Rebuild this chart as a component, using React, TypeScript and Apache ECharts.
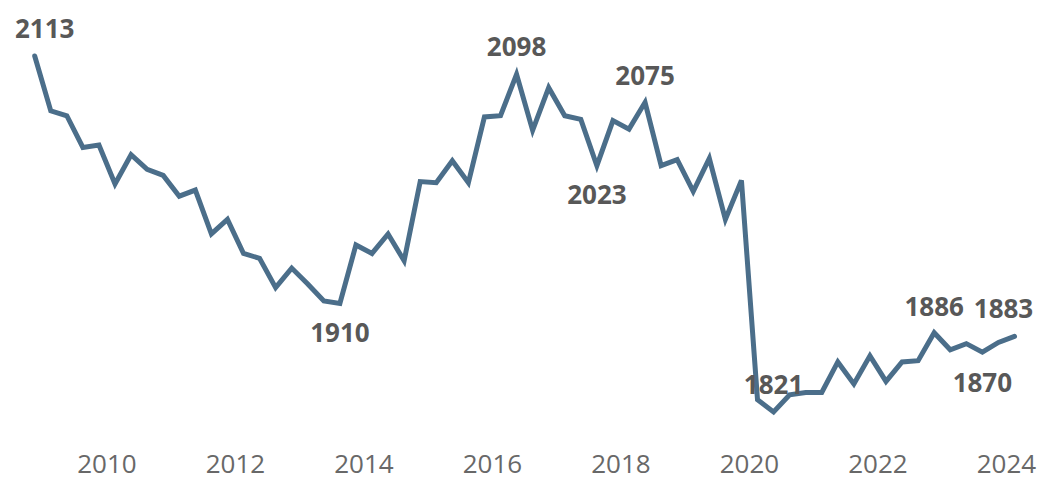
import React, { useEffect, useRef } from "react";
import * as echarts from "echarts";

// Quarterly observations (each plotted at the middle of its quarter)
const quarters = [
  "2008 Q4",
  "2009 Q1", "2009 Q2", "2009 Q3", "2009 Q4",
  "2010 Q1", "2010 Q2", "2010 Q3", "2010 Q4",
  "2011 Q1", "2011 Q2", "2011 Q3", "2011 Q4",
  "2012 Q1", "2012 Q2", "2012 Q3", "2012 Q4",
  "2013 Q1", "2013 Q2", "2013 Q3", "2013 Q4",
  "2014 Q1", "2014 Q2", "2014 Q3", "2014 Q4",
  "2015 Q1", "2015 Q2", "2015 Q3", "2015 Q4",
  "2016 Q1", "2016 Q2", "2016 Q3", "2016 Q4",
  "2017 Q1", "2017 Q2", "2017 Q3", "2017 Q4",
  "2018 Q1", "2018 Q2", "2018 Q3", "2018 Q4",
  "2019 Q1", "2019 Q2", "2019 Q3", "2019 Q4",
  "2020 Q1", "2020 Q2", "2020 Q3", "2020 Q4",
  "2021 Q1", "2021 Q2", "2021 Q3", "2021 Q4",
  "2022 Q1", "2022 Q2", "2022 Q3", "2022 Q4",
  "2023 Q1", "2023 Q2", "2023 Q3", "2023 Q4",
  "2024 Q1",
];

const values = [
  2113,
  2068, 2064, 2038, 2040,
  2008, 2032, 2020, 2015,
  1998, 2003, 1967, 1979,
  1951, 1947, 1923, 1939,
  1926, 1912, 1910, 1958,
  1951, 1967, 1945, 2010,
  2009, 2027, 2009, 2063,
  2064, 2098, 2052, 2087,
  2064, 2061, 2023, 2060,
  2053, 2075, 2023, 2028,
  2002, 2029, 1979, 2011,
  1831, 1821, 1835, 1837,
  1837, 1862, 1844, 1867,
  1846, 1862, 1863, 1886,
  1872, 1877, 1870, 1878,
  1883,
];

const yearTicks = [2010, 2012, 2014, 2016, 2018, 2020, 2022, 2024];

// Which points carry a value label, and where the label sits (px offset of its centre)
const labelOffsets: Record<number, [number, number]> = {
  0: [10, -28],
  19: [0, 29],
  30: [0, -28],
  35: [0, 28],
  38: [0, -27],
  46: [0, -28],
  56: [0, -27],
  59: [0, 30],
  61: [-11, -28],
};

const LINE_COLOR = "#4B6E8A";
const LABEL_COLOR = "#585858";
const AXIS_COLOR = "#686868";
const FONT = "'Open Sans', 'Noto Sans', sans-serif";

function quarterToYear(q: string): number {
  const [y, qq] = q.split(" ");
  return Number(y) + (Number(qq.slice(1)) - 1) * 0.25 + 0.125;
}

export default function App() {
  const ref = useRef<HTMLDivElement>(null);

  useEffect(() => {
    if (!ref.current) return;
    const chart = echarts.init(ref.current, undefined, { renderer: "svg" });

    const data = quarters.map((q, i) => {
      const item: any = { value: [quarterToYear(q), values[i]] };
      const off = labelOffsets[i];
      if (off) {
        item.label = {
          show: true,
          position: "inside",
          offset: off,
        };
      }
      return item;
    });

    chart.setOption({
      animation: false,
      textStyle: { fontFamily: FONT },
      grid: {
        left: 34.7,
        right: 25.5,
        top: 35.3,
        bottom: 39.5,
        containLabel: false,
      },
      xAxis: {
        type: "value",
        min: quarterToYear(quarters[0]),
        max: quarterToYear(quarters[quarters.length - 1]),
        axisLine: { show: false },
        axisTick: { show: false },
        splitLine: { show: false },
        axisLabel: {
          customValues: yearTicks,
          color: AXIS_COLOR,
          fontSize: 26,
          lineHeight: 26,
          fontFamily: FONT,
          margin: 12,
          formatter: (v: number) => String(v),
        },
      },
      yAxis: {
        type: "value",
        min: 1800,
        max: 2130,
        show: false,
        splitLine: { show: false },
      },
      series: [
        {
          type: "line",
          data,
          symbol: "circle",
          symbolSize: 1,
          showSymbol: true,
          itemStyle: { color: LINE_COLOR },
          lineStyle: { color: LINE_COLOR, width: 5, cap: "round", join: "miter" },
          label: {
            show: false,
            color: LABEL_COLOR,
            fontSize: 26,
            fontWeight: "bold",
            fontFamily: FONT,
            formatter: (p: any) => String(p.value[1]),
          },
          emphasis: { disabled: true },
        },
      ],
    });

    return () => chart.dispose();
  }, []);

  return (
    <div
      ref={ref}
      style={{ position: "absolute", left: 0, top: 0, width: 1040, height: 477 }}
    />
  );
}
